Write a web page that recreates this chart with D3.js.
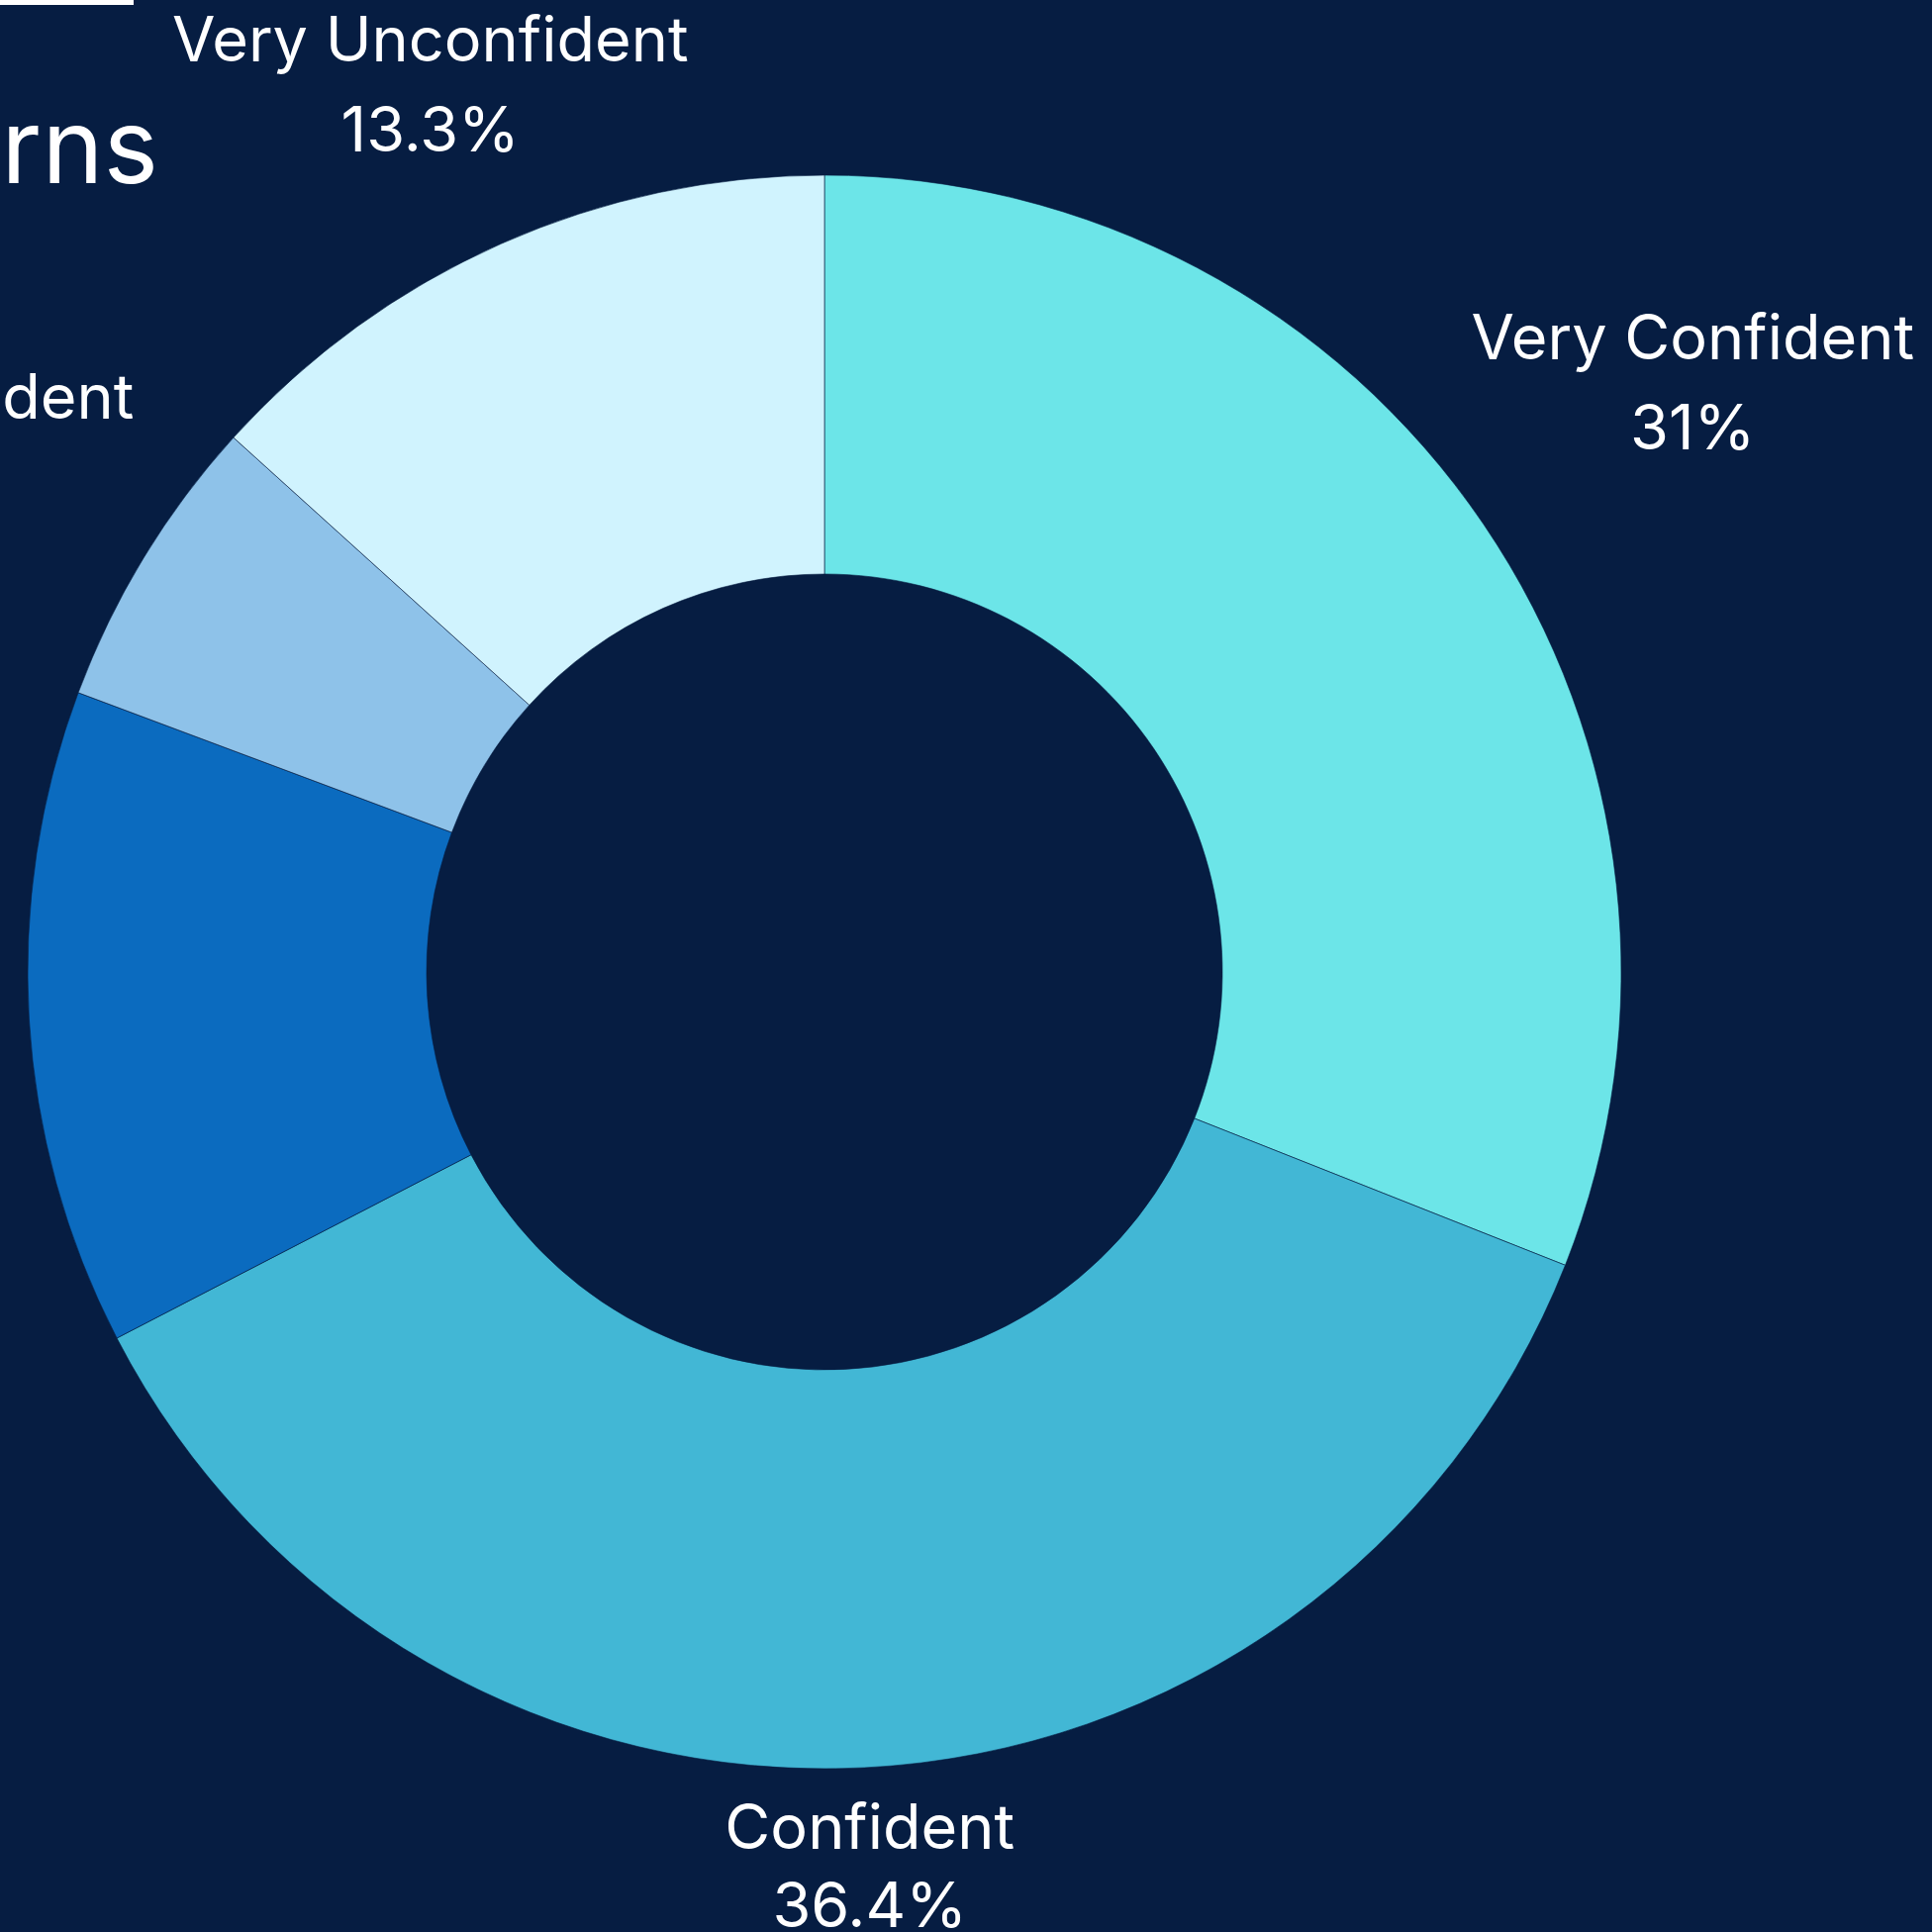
<!DOCTYPE html>
<html>
<head>
<meta charset="utf-8">
<script src="https://cdn.jsdelivr.net/npm/d3@7"></script>
<style>
  html, body { margin: 0; padding: 0; background: #061d42; }
  svg { display: block; }
  text { font-family: Inter, "Noto Sans", sans-serif; fill: #ffffff; }
</style>
</head>
<body>
<svg id="chart" width="1952" height="1952"></svg>
<script>
// ---- data ----
const titleText = "Confidence in Returns";
const categories = ["Very Confident", "Confident", "Neutral", "Unconfident", "Very Unconfident"];
const values = [31, 36.4, 13.3, 6, 13.3];
const colors = ["#6ce5e8", "#42b7d5", "#0b6bbf", "#8ec2e9", "#d0f3fe"];

// ---- layout ----
const W = 1952, H = 1952;
const cx = 833, cy = 982;
const outerR = 805, innerR = 402;
const labelR = 840;
const fs = 63, capH = fs * 0.727, lineGap = 91;

const svg = d3.select("#chart");
svg.append("rect").attr("width", W).attr("height", H).attr("fill", "#061d42");

// header bits (partly outside the view)
svg.append("rect").attr("x", -300).attr("y", -10).attr("width", 435).attr("height", 15).attr("fill", "#ffffff");
svg.append("text").attr("x", 160).attr("y", 185).attr("text-anchor", "end")
  .style("font-size", "105px").text(titleText);

const data = categories.map((c, i) => ({ name: c, value: values[i], color: colors[i] }));
const pie = d3.pie().sort(null).value(d => d.value);
const arcs = pie(data);
const arc = d3.arc().innerRadius(innerR).outerRadius(outerR);

const g = svg.append("g").attr("transform", `translate(${cx},${cy})`);
g.selectAll("path.slice").data(arcs).enter().append("path")
  .attr("class", "slice")
  .attr("d", arc)
  .attr("fill", d => d.data.color)
  .attr("stroke", "#061d42")
  .attr("stroke-width", 0.6);

// labels: two-line blocks pushed outward along the slice mid-angle
const fmt = v => (Math.round(v * 10) / 10) + "%";
arcs.forEach(a => {
  const mid = (a.startAngle + a.endAngle) / 2;
  const ux = Math.sin(mid), uy = -Math.cos(mid);
  const lg = g.append("g");
  const t1 = lg.append("text").attr("text-anchor", "middle").style("font-size", fs + "px").text(a.data.name);
  const t2 = lg.append("text").attr("text-anchor", "middle").style("font-size", fs + "px").text(fmt(a.data.value));
  const w = Math.max(t1.node().getComputedTextLength(), t2.node().getComputedTextLength());
  let h = capH + lineGap;
  const dist = (d) => {
    const bx = d * ux, by = d * uy;
    const dx = Math.max(0, Math.abs(bx) - w / 2);
    const dy = Math.max(0, Math.abs(by) - h / 2);
    return Math.hypot(dx, dy);
  };
  let lo = 0, hi = 4000;
  for (let k = 0; k < 60; k++) {
    const m = (lo + hi) / 2;
    if (dist(m) < labelR) lo = m; else hi = m;
  }
  const bx = lo * ux, by = lo * uy;
  let top = by - h / 2;
  let gap = lineGap;
  const maxBottom = (H - 5) - cy;
  if (top + capH + gap > maxBottom) gap = Math.max(fs, maxBottom - top - capH);
  t1.attr("x", bx).attr("y", top + capH);
  t2.attr("x", bx).attr("y", top + capH + gap);
});
</script>
</body>
</html>
